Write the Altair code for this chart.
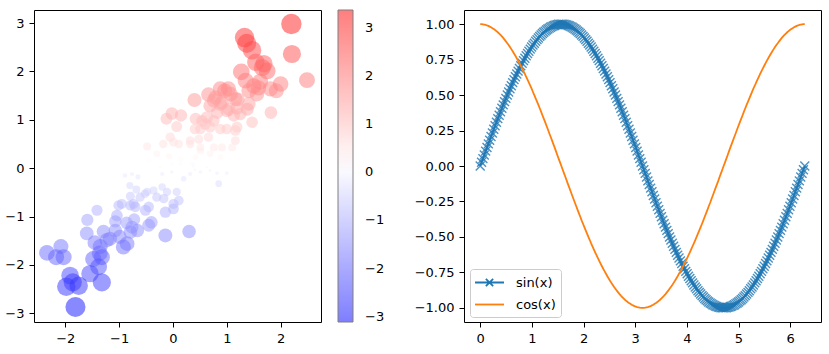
import altair as alt
import pandas as pd

# ---------------- left panel: scatter (x, y; colour/size follow y) ----
SC_X = [2.20, 2.21, 2.49, 1.33, 1.37, 1.47, 1.27, 1.54, 1.69, 1.75, 1.66, 1.35, 1.50, 1.56, 1.62, 1.81, 2.00, 1.92, 1.59, 1.41,
        0.88, 0.96, 1.03, 0.66, 0.40, 1.20, 1.16, 1.07, 0.76, 0.79, 0.69, 0.91, 1.04, 1.19, 1.38, 1.41, 1.25, 1.13, 1.82, 0.82,
        0.63, 0.76, 0.54, 0.42, -0.02, -0.12, 0.15, 0.07, 1.00, 1.19, 0.88, 1.47, 0.51, 0.60, 0.69, 1.16, 0.41, 0.66, 0.48, 0.32,
        -0.05, 0.01, 0.11, -0.18, 0.32, 0.51, 0.76, 0.91, 1.16, 1.10, -0.48, -0.30, -0.07, 0.42, 0.51, 0.38, 0.69, 0.88, 0.14, 0.63,
        1.00, 0.82, 0.85, 0.51, 0.32, 0.14, -0.45, -0.02, 0.35, 0.38, -0.24, -0.02, -0.20, 0.20, 0.69, 0.41, 0.88, 1.00,
        0.07, 0.01, 0.11, -0.14, 0.01, -0.89, -0.76, -0.65, -0.80, -0.68, -0.48, -0.36, -0.20, -0.11, -0.30, -0.17, -0.52, -0.61, -0.79, -0.73,
        -0.79, -0.70, -0.51, -0.45, -0.95, -1.01, -1.41, -1.04, -1.59, -1.07, -0.86, -0.72, -0.76, -0.66, -1.07, -0.79, -1.29, -1.60, -0.40, -0.45,
        -0.14, 0.30, -0.99, -1.17, -0.85, -0.92, -1.23, -1.45, -1.35, -1.36, -1.32, -1.48, -1.38, -2.34, -2.08, -2.17, -2.03, -1.54, -1.32, -1.91,
        -1.98, -1.86, -1.75, -1.81]
SC_Y = [2.98, 2.36, 1.82, 2.70, 2.58, 2.44, 1.99, 2.19, 2.16, 2.01, 2.08, 1.81, 1.70, 1.53, 1.79, 1.64, 1.74, 1.60, 1.66, 1.60,
        1.64, 1.60, 1.64, 1.52, 1.41, 1.42, 1.43, 1.53, 1.40, 1.46, 1.29, 1.36, 1.22, 1.24, 1.22, 1.33, 1.12, 1.09, 1.15, 1.15,
        1.05, 0.98, 0.98, 1.02, 1.13, 1.02, 1.09, 0.86, 0.81, 0.85, 0.81, 0.95, 0.81, 0.91, 0.85, 0.78, 0.81, 0.64, 0.60, 0.57,
        0.64, 0.54, 0.50, 0.50, 0.50, 0.43, 0.43, 0.43, 0.57, 0.43, 0.45, 0.30, 0.25, 0.23, 0.36, 0.09, 0.30, 0.23, 0.19, 0.02,
        -0.10, -0.10, -0.32, -0.08, -0.12, 0.09, 0.16, 0.09, 0.09, 0.04, 0.02, -0.08, -0.12, -0.22, -0.05, -0.03, 1.33, 1.19,
        -0.49, -0.74, -0.67, -0.91, -0.84, -0.15, -0.12, -0.18, -0.36, -0.44, -0.49, -0.46, -0.39, -0.49, -0.60, -0.63, -0.53, -0.60, -0.58, -0.74,
        -0.77, -0.80, -0.87, -0.80, -0.74, -0.77, -0.87, -0.98, -1.07, -1.10, -1.13, -1.06, -1.22, -1.29, -1.29, -1.32, -1.31, -1.35, -1.12, -1.18,
        -1.39, -1.31, -1.42, -1.46, -1.56, -1.63, -1.49, -1.54, -1.62, -1.76, -1.84, -1.88, -2.04, -1.75, -1.62, -1.84, -1.84, -2.18, -2.36, -2.22,
        -2.45, -2.36, -2.43, -2.87]
SC_XTICKS = [-2, -1, 0, 1, 2]
SC_YTICKS = [-3, -2, -1, 0, 1, 2, 3]
CBAR_RANGE = [-3.11, 3.37]
CBAR_MID = 0.13

# ---------------- right panel: sin / cos curves ----------------
X_VALUES = [0.000, 0.026, 0.052, 0.079, 0.105, 0.131, 0.157, 0.183, 0.209, 0.236,
            0.262, 0.288, 0.314, 0.340, 0.367, 0.393, 0.419, 0.445, 0.471, 0.497,
            0.524, 0.550, 0.576, 0.602, 0.628, 0.654, 0.681, 0.707, 0.733, 0.759,
            0.785, 0.812, 0.838, 0.864, 0.890, 0.916, 0.942, 0.969, 0.995, 1.021,
            1.047, 1.073, 1.100, 1.126, 1.152, 1.178, 1.204, 1.230, 1.257, 1.283,
            1.309, 1.335, 1.361, 1.388, 1.414, 1.440, 1.466, 1.492, 1.518, 1.545,
            1.571,
            1.597, 1.623, 1.649, 1.676, 1.702, 1.728, 1.754, 1.780, 1.806, 1.833,
            1.859, 1.885, 1.911, 1.937, 1.963, 1.990, 2.016, 2.042, 2.068, 2.094,
            2.121, 2.147, 2.173, 2.199, 2.225, 2.251, 2.278, 2.304, 2.330, 2.356,
            2.382, 2.409, 2.435, 2.461, 2.487, 2.513, 2.539, 2.566, 2.592, 2.618,
            2.644, 2.670, 2.697, 2.723, 2.749, 2.775, 2.801, 2.827, 2.854, 2.880,
            2.906, 2.932, 2.958, 2.985, 3.011, 3.037, 3.063, 3.089, 3.115, 3.142,
            3.168, 3.194, 3.220, 3.246, 3.272, 3.299, 3.325, 3.351, 3.377, 3.403,
            3.429, 3.456, 3.482, 3.508, 3.534, 3.560, 3.587, 3.613, 3.639, 3.665,
            3.691, 3.718, 3.744, 3.770, 3.796, 3.822, 3.848, 3.875, 3.901, 3.927,
            3.953, 3.979, 4.006, 4.032, 4.058, 4.084, 4.110, 4.136, 4.163, 4.189,
            4.215, 4.241, 4.267, 4.294, 4.320, 4.346, 4.372, 4.398, 4.424, 4.451,
            4.477, 4.503, 4.529, 4.555, 4.581, 4.608, 4.634, 4.660, 4.686, 4.712,
            4.739, 4.765, 4.791, 4.817, 4.843, 4.869, 4.896, 4.922, 4.948, 4.974,
            5.000, 5.027, 5.053, 5.079, 5.105, 5.131, 5.157, 5.184, 5.210, 5.236,
            5.262, 5.288, 5.315, 5.341, 5.367, 5.393, 5.419, 5.445, 5.472, 5.498,
            5.524, 5.550, 5.576, 5.603, 5.629, 5.655, 5.681, 5.707, 5.733, 5.760,
            5.786, 5.812, 5.838, 5.864, 5.890, 5.917, 5.943, 5.969, 5.995, 6.021,
            6.048, 6.074, 6.100, 6.126, 6.152, 6.178, 6.205, 6.231, 6.257, 6.283]

SIN_VALUES = [0.000, 0.026, 0.052, 0.078, 0.105, 0.131, 0.156, 0.182, 0.208, 0.233,
              0.259, 0.284, 0.309, 0.334, 0.358, 0.383, 0.407, 0.431, 0.454, 0.477,
              0.500, 0.522, 0.545, 0.566, 0.588, 0.609, 0.629, 0.649, 0.669, 0.688,
              0.707, 0.725, 0.743, 0.760, 0.777, 0.793, 0.809, 0.824, 0.839, 0.853,
              0.866, 0.879, 0.891, 0.903, 0.914, 0.924, 0.934, 0.943, 0.951, 0.959,
              0.966, 0.972, 0.978, 0.983, 0.988, 0.991, 0.995, 0.997, 0.999, 1.000,
              1.000,
              1.000, 0.999, 0.997, 0.995, 0.991, 0.988, 0.983, 0.978, 0.972, 0.966,
              0.959, 0.951, 0.943, 0.934, 0.924, 0.914, 0.903, 0.891, 0.879, 0.866,
              0.853, 0.839, 0.824, 0.809, 0.793, 0.777, 0.760, 0.743, 0.725, 0.707,
              0.688, 0.669, 0.649, 0.629, 0.609, 0.588, 0.566, 0.545, 0.522, 0.500,
              0.477, 0.454, 0.431, 0.407, 0.383, 0.358, 0.334, 0.309, 0.284, 0.259,
              0.233, 0.208, 0.182, 0.156, 0.131, 0.105, 0.078, 0.052, 0.026, 0.000,
              -0.026, -0.052, -0.078, -0.105, -0.131, -0.156, -0.182, -0.208, -0.233, -0.259,
              -0.284, -0.309, -0.334, -0.358, -0.383, -0.407, -0.431, -0.454, -0.477, -0.500,
              -0.522, -0.545, -0.566, -0.588, -0.609, -0.629, -0.649, -0.669, -0.688, -0.707,
              -0.725, -0.743, -0.760, -0.777, -0.793, -0.809, -0.824, -0.839, -0.853, -0.866,
              -0.879, -0.891, -0.903, -0.914, -0.924, -0.934, -0.943, -0.951, -0.959, -0.966,
              -0.972, -0.978, -0.983, -0.988, -0.991, -0.995, -0.997, -0.999, -1.000, -1.000,
              -1.000, -0.999, -0.997, -0.995, -0.991, -0.988, -0.983, -0.978, -0.972, -0.966,
              -0.959, -0.951, -0.943, -0.934, -0.924, -0.914, -0.903, -0.891, -0.879, -0.866,
              -0.853, -0.839, -0.824, -0.809, -0.793, -0.777, -0.760, -0.743, -0.725, -0.707,
              -0.688, -0.669, -0.649, -0.629, -0.609, -0.588, -0.566, -0.545, -0.522, -0.500,
              -0.477, -0.454, -0.431, -0.407, -0.383, -0.358, -0.334, -0.309, -0.284, -0.259,
              -0.233, -0.208, -0.182, -0.156, -0.131, -0.105, -0.078, -0.052, -0.026, 0.000]

COS_VALUES = [1.000,
              1.000, 0.999, 0.997, 0.995, 0.991, 0.988, 0.983, 0.978, 0.972, 0.966,
              0.959, 0.951, 0.943, 0.934, 0.924, 0.914, 0.903, 0.891, 0.879, 0.866,
              0.853, 0.839, 0.824, 0.809, 0.793, 0.777, 0.760, 0.743, 0.725, 0.707,
              0.688, 0.669, 0.649, 0.629, 0.609, 0.588, 0.566, 0.545, 0.522, 0.500,
              0.477, 0.454, 0.431, 0.407, 0.383, 0.358, 0.334, 0.309, 0.284, 0.259,
              0.233, 0.208, 0.182, 0.156, 0.131, 0.105, 0.078, 0.052, 0.026, 0.000,
              -0.026, -0.052, -0.078, -0.105, -0.131, -0.156, -0.182, -0.208, -0.233, -0.259,
              -0.284, -0.309, -0.334, -0.358, -0.383, -0.407, -0.431, -0.454, -0.477, -0.500,
              -0.522, -0.545, -0.566, -0.588, -0.609, -0.629, -0.649, -0.669, -0.688, -0.707,
              -0.725, -0.743, -0.760, -0.777, -0.793, -0.809, -0.824, -0.839, -0.853, -0.866,
              -0.879, -0.891, -0.903, -0.914, -0.924, -0.934, -0.943, -0.951, -0.959, -0.966,
              -0.972, -0.978, -0.983, -0.988, -0.991, -0.995, -0.997, -0.999, -1.000, -1.000,
              -1.000, -0.999, -0.997, -0.995, -0.991, -0.988, -0.983, -0.978, -0.972, -0.966,
              -0.959, -0.951, -0.943, -0.934, -0.924, -0.914, -0.903, -0.891, -0.879, -0.866,
              -0.853, -0.839, -0.824, -0.809, -0.793, -0.777, -0.760, -0.743, -0.725, -0.707,
              -0.688, -0.669, -0.649, -0.629, -0.609, -0.588, -0.566, -0.545, -0.522, -0.500,
              -0.477, -0.454, -0.431, -0.407, -0.383, -0.358, -0.334, -0.309, -0.284, -0.259,
              -0.233, -0.208, -0.182, -0.156, -0.131, -0.105, -0.078, -0.052, -0.026, 0.000,
              0.026, 0.052, 0.078, 0.105, 0.131, 0.156, 0.182, 0.208, 0.233, 0.259,
              0.284, 0.309, 0.334, 0.358, 0.383, 0.407, 0.431, 0.454, 0.477, 0.500,
              0.522, 0.545, 0.566, 0.588, 0.609, 0.629, 0.649, 0.669, 0.688, 0.707,
              0.725, 0.743, 0.760, 0.777, 0.793, 0.809, 0.824, 0.839, 0.853, 0.866,
              0.879, 0.891, 0.903, 0.914, 0.924, 0.934, 0.943, 0.951, 0.959, 0.966,
              0.972, 0.978, 0.983, 0.988, 0.991, 0.995, 0.997, 0.999, 1.000, 1.000]

SERIES = ["sin(x)", "cos(x)"]
SERIES_COLORS = ["#1f77b4", "#ff7f0e"]
LINE_XTICKS = [0, 1, 2, 3, 4, 5, 6]
LINE_YTICKS = [-1.0, -0.75, -0.5, -0.25, 0.0, 0.25, 0.5, 0.75, 1.0]

FONT = "DejaVu Sans"
FS = 13

# ---------------- left chart ----------------
scatter_df = pd.DataFrame({"x": SC_X, "y": SC_Y})
bwr = alt.Scale(domain=CBAR_RANGE, domainMid=CBAR_MID, range=["#0000ff", "#ffffff", "#ff0000"],
                interpolate="rgb", nice=False, zero=False)

scatter = alt.Chart(scatter_df).transform_calculate(
    s="abs(datum.y)"
).mark_circle(fillOpacity=0.5, strokeOpacity=0.5, strokeWidth=1.3, opacity=1).encode(
    x=alt.X("x:Q", scale=alt.Scale(domain=[-2.58, 2.75], nice=False, zero=False),
            axis=alt.Axis(values=SC_XTICKS, format="d", title=None)),
    y=alt.Y("y:Q", scale=alt.Scale(domain=[-3.18, 3.27], nice=False, zero=False),
            axis=alt.Axis(values=SC_YTICKS, format="d", title=None)),
    color=alt.Color("y:Q", scale=bwr, legend=alt.Legend(
        type="gradient", title=None, orient="none", legendX=304, legendY=0, direction="vertical",
        gradientLength=312, gradientThickness=15, gradientOpacity=0.5,
        gradientStrokeColor="#000000", gradientStrokeWidth=1,
        tickCount=7, format="d", labelOffset=12, labelOverlap=False,
        labelFontSize=FS, labelColor="#000000", padding=0)),
    size=alt.Size("s:Q", scale=alt.Scale(domain=[0, 3], range=[0, 420], zero=True), legend=None),
).properties(width=287, height=312)

# ---------------- right chart ----------------
sin_df = pd.DataFrame({"x": X_VALUES, "y": SIN_VALUES})
cos_df = pd.DataFrame({"x": X_VALUES, "y": COS_VALUES})
legend_df = pd.DataFrame({"x": [X_VALUES[0], X_VALUES[0]],
                          "y": [SIN_VALUES[0], COS_VALUES[0]],
                          "series": SERIES})

xs = alt.Scale(domain=[-0.314, 6.597], nice=False, zero=False)
ys = alt.Scale(domain=[-1.1, 1.1], nice=False, zero=False)
xenc = alt.X("x:Q", scale=xs, axis=alt.Axis(values=LINE_XTICKS, format="d", title=None))
yenc = alt.Y("y:Q", scale=ys, axis=alt.Axis(values=LINE_YTICKS, format=".2f", title=None))

X_MARK = "M-1,-1L1,1M-1,1L1,-1"
SIN_LEG = "M-2,0H2M-0.5,-0.5L0.5,0.5M-0.5,0.5L0.5,-0.5"
COS_LEG = "M-2,0H2"

sin_line = alt.Chart(sin_df).mark_line(color=SERIES_COLORS[0], strokeWidth=1.8).encode(x=xenc, y=yenc)
sin_pts = alt.Chart(sin_df).mark_point(shape=X_MARK, color=SERIES_COLORS[0], size=80,
                                       strokeWidth=1.4, filled=False, opacity=0.8).encode(x=xenc, y=yenc)
cos_line = alt.Chart(cos_df).mark_line(color=SERIES_COLORS[1], strokeWidth=1.8).encode(x=xenc, y=yenc)

leg = alt.Legend(title=None, orient="none", legendX=6, legendY=259,
                 symbolSize=210, symbolStrokeWidth=1.8, symbolOpacity=1,
                 symbolFillColor="transparent", symbolOffset=6, labelOffset=18,
                 padding=5, rowPadding=6, fillColor="rgba(255,255,255,0.8)",
                 strokeColor="#cccccc", cornerRadius=3, labelFontSize=FS, labelColor="#000000")
dummy = alt.Chart(legend_df).mark_point(opacity=0, filled=False).encode(
    x=xenc, y=yenc,
    color=alt.Color("series:N", scale=alt.Scale(domain=SERIES, range=SERIES_COLORS), legend=leg),
    shape=alt.Shape("series:N", scale=alt.Scale(domain=SERIES, range=[SIN_LEG, COS_LEG]), legend=leg),
)

right = alt.layer(sin_line, sin_pts, cos_line, dummy).properties(width=357, height=312)

chart = alt.hconcat(scatter, right, spacing=143, bounds="flush").resolve_scale(
    color="independent", size="independent", shape="independent"
).resolve_legend(
    color="independent", shape="independent"
).properties(
    padding={"left": 4, "top": 9, "right": 5, "bottom": 5},
    autosize=alt.AutoSizeParams(type="pad"),
).configure(font=FONT).configure_axis(
    labelFontSize=FS, labelColor="#000000", tickColor="#000000", tickSize=5, tickWidth=1,
    labelPadding=5, grid=False, domain=False, labelFont=FONT
).configure_view(stroke="#000000", strokeWidth=1).configure_legend(labelFont=FONT)

chart.save("out.html", embed_options={"renderer": "svg", "actions": False})
